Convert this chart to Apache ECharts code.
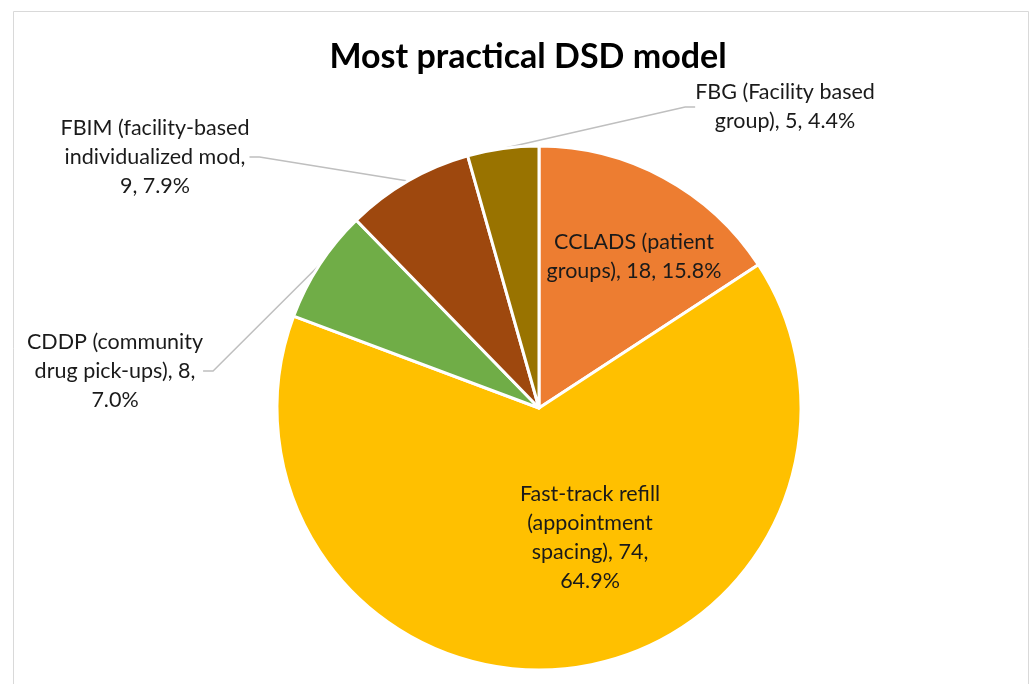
<!DOCTYPE html>
<html><head><meta charset="utf-8">
<script src="https://cdn.jsdelivr.net/npm/echarts@6/dist/echarts.min.js"></script>
<style>html,body{margin:0;padding:0;background:#fff}#c{width:1032px;height:684px}</style>
</head><body><div id="c"></div>
<script>
const categories = [
  'CCLADS (patient groups)',
  'Fast-track refill (appointment spacing)',
  'CDDP (community drug pick-ups)',
  'FBIM (facility-based individualized mod',
  'FBG (Facility based group)'
];
const values = [18, 74, 8, 9, 5];
const colors = ['#ED7D31', '#FFC000', '#70AD47', '#9E480E', '#997300'];
const titleText = 'Most practical DSD model';

// layout / style only
const wrapChars = [18, 17, 18, 20, 19];
const inside = [true, true, false, false, false];
const labelPos = [[634, 257], [590, 538], [115, 371], [155, 157], [785, 107]];

function wrap(text, max) {
  const words = text.split(' ');
  const lines = [];
  let cur = '';
  words.forEach(w => {
    const t = cur ? cur + ' ' + w : w;
    if (t.length > max && cur) { lines.push(cur); cur = w; } else { cur = t; }
  });
  if (cur) lines.push(cur);
  return lines.join('\n');
}

const FONT = 'Lato';
const chart = echarts.init(document.getElementById('c'), null, {renderer: 'canvas'});
chart.setOption({
  backgroundColor: '#fff',
  animation: false,
  title: {
    text: titleText, left: 523, top: 35, textAlign: 'center',
    textStyle: {fontFamily: FONT, fontWeight: 'bold', fontSize: 34, color: '#000'}
  },
  graphic: [{
    type: 'rect', shape: {x: 13.5, y: 11.5, width: 1015, height: 700},
    style: {fill: 'none', stroke: '#d9d9d9', lineWidth: 1}, silent: true, z: -1
  }],
  series: [{
    type: 'pie',
    center: [539, 408],
    radius: [0, 262],
    startAngle: 90,
    percentPrecision: 1,
    itemStyle: {borderColor: '#fff', borderWidth: 3},
    label: {
      fontFamily: FONT, fontSize: 21.5, lineHeight: 29, color: '#1a1a1a', align: 'center',
      formatter: p => wrap(p.name + ', ' + p.value + ', ' + p.percent.toFixed(1) + '%', wrapChars[p.dataIndex])
    },
    labelLine: {show: true, length: 20, length2: 10, lineStyle: {color: '#bfbfbf', width: 1.5}},
    labelLayout: params => {
      const p = labelPos[params.dataIndex];
      return {x: p[0], y: p[1], align: 'center', verticalAlign: 'middle'};
    },
    data: categories.map((n, i) => ({
      name: n, value: values[i],
      itemStyle: {color: colors[i]},
      label: {position: inside[i] ? 'inside' : 'outside'},
      labelLine: {show: !inside[i]}
    }))
  }]
});
</script></body></html>
